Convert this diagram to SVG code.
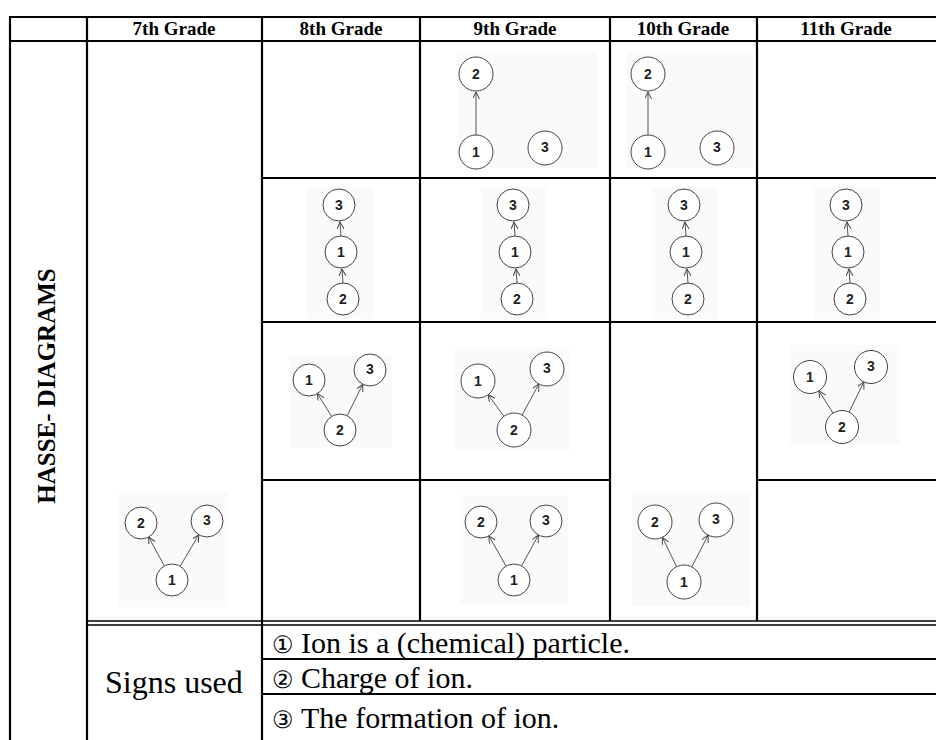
<svg xmlns="http://www.w3.org/2000/svg" width="936" height="740" viewBox="0 0 936 740">
<defs>
<marker id="ah" markerUnits="userSpaceOnUse" markerWidth="10" markerHeight="10" refX="7" refY="3.5" orient="auto">
<path d="M0,0 L7,3.5 L0,7" fill="none" stroke="#444" stroke-width="1"/>
</marker>
<style>
.grid{stroke:#000;stroke-width:2.2;fill:none}
.dbl{stroke:#000;stroke-width:1.6;fill:none}
.bg{fill:#fafafa}
.nd{fill:#fff;stroke:#444;stroke-width:1}
.lb{font-family:"Liberation Sans",Arial,sans-serif;font-size:14px;font-weight:bold;fill:#222;text-anchor:middle;dominant-baseline:central}
.ed{stroke:#555;stroke-width:1;fill:none;marker-end:url(#ah)}
.hd{font-family:"Liberation Serif","Times New Roman",serif;font-size:19px;font-weight:bold;text-anchor:middle;fill:#000}
.sg{font-family:"Liberation Serif","Times New Roman","DejaVu Serif",serif;font-size:30px;fill:#000}
</style>
</defs>
<rect width="936" height="740" fill="#fff"/>

<g id="table">
<line class="grid" x1="10" y1="17" x2="936" y2="17"/>
<line class="grid" x1="10" y1="41" x2="936" y2="41"/>
<line class="grid" x1="262" y1="178" x2="936" y2="178"/>
<line class="grid" x1="262" y1="322" x2="936" y2="322"/>
<line class="grid" x1="262" y1="480" x2="610" y2="480"/>
<line class="grid" x1="757" y1="480" x2="936" y2="480"/>
<line class="dbl" x1="87" y1="621" x2="936" y2="621"/>
<line class="dbl" x1="87" y1="625" x2="936" y2="625"/>
<line class="grid" x1="262" y1="659" x2="936" y2="659"/>
<line class="grid" x1="262" y1="694" x2="936" y2="694"/>
<line class="grid" x1="10" y1="16" x2="10" y2="740"/>
<line class="grid" x1="87" y1="16" x2="87" y2="740"/>
<line class="grid" x1="262" y1="16" x2="262" y2="740"/>
<line class="grid" x1="420" y1="16" x2="420" y2="621"/>
<line class="grid" x1="610" y1="16" x2="610" y2="621"/>
<line class="grid" x1="757" y1="16" x2="757" y2="621"/>
</g>

<g id="headers">
<text class="hd" x="174" y="35">7th Grade</text>
<text class="hd" x="341" y="35">8th Grade</text>
<text class="hd" x="515" y="35">9th Grade</text>
<text class="hd" x="683" y="35">10th Grade</text>
<text class="hd" x="846" y="35">11th Grade</text>
<text class="hd" transform="translate(55,386) rotate(-90)" style="font-size:25px">HASSE- DIAGRAMS</text>
</g>

<g id="legend">
<text class="sg" x="105" y="693" style="font-size:32px">Signs used</text>
<text class="sg" x="272" y="653" style="font-size:24px">①</text>
<text class="sg" x="301" y="653">Ion is a (chemical) particle.</text>
<text class="sg" x="272" y="688" style="font-size:24px">②</text>
<text class="sg" x="301" y="688">Charge of ion.</text>
<text class="sg" x="272" y="728" style="font-size:24px">③</text>
<text class="sg" x="301" y="728">The formation of ion.</text>
</g>

<g id="backgrounds">
<rect class="bg" x="457" y="52" width="140" height="116"/>
<rect class="bg" x="627" y="52" width="126" height="116"/>
<rect class="bg" x="307" y="187" width="66" height="132"/>
<rect class="bg" x="481" y="187" width="66" height="132"/>
<rect class="bg" x="652" y="187" width="66" height="132"/>
<rect class="bg" x="814" y="187" width="66" height="132"/>
<rect class="bg" x="289" y="355" width="103" height="93"/>
<rect class="bg" x="455" y="348" width="115" height="102"/>
<rect class="bg" x="790" y="345" width="110" height="100"/>
<rect class="bg" x="118" y="493" width="110" height="114"/>
<rect class="bg" x="460" y="495" width="108" height="110"/>
<rect class="bg" x="632" y="492" width="118" height="114"/>
</g>

<g id="connectors">
<line class="ed" x1="476" y1="135" x2="476" y2="92"/>
<line class="ed" x1="648" y1="135" x2="648" y2="92"/>
<line class="ed" x1="341" y1="236" x2="340" y2="222"/>
<line class="ed" x1="343" y1="283" x2="342" y2="269"/>
<line class="ed" x1="515" y1="236" x2="514" y2="222"/>
<line class="ed" x1="517" y1="283" x2="516" y2="269"/>
<line class="ed" x1="686" y1="236" x2="685" y2="222"/>
<line class="ed" x1="688" y1="283" x2="687" y2="269"/>
<line class="ed" x1="848" y1="236" x2="847" y2="222"/>
<line class="ed" x1="850" y1="283" x2="849" y2="269"/>
<line class="ed" x1="331.6" y1="416.4" x2="317.4" y2="393.6"/>
<line class="ed" x1="347.2" y1="415.7" x2="362.8" y2="384.3"/>
<line class="ed" x1="503.9" y1="416.3" x2="488.1" y2="394.7"/>
<line class="ed" x1="522.1" y1="415.1" x2="538.9" y2="383.9"/>
<line class="ed" x1="833.1" y1="413.1" x2="818.9" y2="390.9"/>
<line class="ed" x1="849.2" y1="412.1" x2="863.8" y2="381.9"/>
<line class="ed" x1="164.4" y1="566" x2="148.6" y2="537"/>
<line class="ed" x1="180.2" y1="566.2" x2="198.8" y2="534.8"/>
<line class="ed" x1="506.1" y1="566.1" x2="488.9" y2="535.9"/>
<line class="ed" x1="521.6" y1="565.9" x2="538.4" y2="535.1"/>
<line class="ed" x1="676.6" y1="566.7" x2="662.4" y2="537.3"/>
<line class="ed" x1="691.8" y1="566.9" x2="708.2" y2="535.1"/>
</g>

<g id="g9-r1-n2"><circle class="nd" cx="476" cy="74" r="17"/><text class="lb" x="476" y="74">2</text></g>
<g id="g9-r1-n1"><circle class="nd" cx="476" cy="152" r="17"/><text class="lb" x="476" y="152">1</text></g>
<g id="g9-r1-n3"><circle class="nd" cx="545" cy="148" r="17"/><text class="lb" x="545" y="147">3</text></g>

<g id="g10-r1-n2"><circle class="nd" cx="648" cy="74" r="17"/><text class="lb" x="648" y="74">2</text></g>
<g id="g10-r1-n1"><circle class="nd" cx="648" cy="152" r="17"/><text class="lb" x="648" y="152">1</text></g>
<g id="g10-r1-n3"><circle class="nd" cx="717" cy="148" r="17"/><text class="lb" x="717" y="147">3</text></g>

<g id="g8-r2-n3"><circle class="nd" cx="339" cy="205" r="16"/><text class="lb" x="339" y="205">3</text></g>
<g id="g8-r2-n1"><circle class="nd" cx="341" cy="252" r="16"/><text class="lb" x="341" y="252">1</text></g>
<g id="g8-r2-n2"><circle class="nd" cx="343" cy="299" r="16"/><text class="lb" x="343" y="299">2</text></g>

<g id="g9-r2-n3"><circle class="nd" cx="513" cy="205" r="16"/><text class="lb" x="513" y="205">3</text></g>
<g id="g9-r2-n1"><circle class="nd" cx="515" cy="252" r="16"/><text class="lb" x="515" y="252">1</text></g>
<g id="g9-r2-n2"><circle class="nd" cx="517" cy="299" r="16"/><text class="lb" x="517" y="299">2</text></g>

<g id="g10-r2-n3"><circle class="nd" cx="684" cy="205" r="16"/><text class="lb" x="684" y="205">3</text></g>
<g id="g10-r2-n1"><circle class="nd" cx="686" cy="252" r="16"/><text class="lb" x="686" y="252">1</text></g>
<g id="g10-r2-n2"><circle class="nd" cx="688" cy="299" r="16"/><text class="lb" x="688" y="299">2</text></g>

<g id="g11-r2-n3"><circle class="nd" cx="846" cy="205" r="16"/><text class="lb" x="846" y="205">3</text></g>
<g id="g11-r2-n1"><circle class="nd" cx="848" cy="252" r="16"/><text class="lb" x="848" y="252">1</text></g>
<g id="g11-r2-n2"><circle class="nd" cx="850" cy="299" r="16"/><text class="lb" x="850" y="299">2</text></g>

<g id="g8-r3-n1"><circle class="nd" cx="309" cy="380" r="16"/><text class="lb" x="309" y="380">1</text></g>
<g id="g8-r3-n3"><circle class="nd" cx="370" cy="370" r="16"/><text class="lb" x="370" y="369">3</text></g>
<g id="g8-r3-n2"><circle class="nd" cx="340" cy="430" r="16"/><text class="lb" x="340" y="430">2</text></g>

<g id="g9-r3-n1"><circle class="nd" cx="478" cy="381" r="17"/><text class="lb" x="478" y="381">1</text></g>
<g id="g9-r3-n3"><circle class="nd" cx="547" cy="369" r="17"/><text class="lb" x="547" y="368">3</text></g>
<g id="g9-r3-n2"><circle class="nd" cx="514" cy="430" r="17"/><text class="lb" x="514" y="430">2</text></g>

<g id="g11-r3-n1"><circle class="nd" cx="810" cy="377" r="16.5"/><text class="lb" x="810" y="377">1</text></g>
<g id="g11-r3-n3"><circle class="nd" cx="871" cy="367" r="16.5"/><text class="lb" x="871" y="366">3</text></g>
<g id="g11-r3-n2"><circle class="nd" cx="842" cy="427" r="16.5"/><text class="lb" x="842" y="427">2</text></g>

<g id="g7-n2"><circle class="nd" cx="141" cy="523" r="16"/><text class="lb" x="141" y="523">2</text></g>
<g id="g7-n3"><circle class="nd" cx="207" cy="521" r="16"/><text class="lb" x="207" y="520">3</text></g>
<g id="g7-n1"><circle class="nd" cx="172" cy="580" r="16"/><text class="lb" x="172" y="580">1</text></g>

<g id="g9-r4-n2"><circle class="nd" cx="481" cy="522" r="16"/><text class="lb" x="481" y="522">2</text></g>
<g id="g9-r4-n3"><circle class="nd" cx="546" cy="521" r="16"/><text class="lb" x="546" y="520">3</text></g>
<g id="g9-r4-n1"><circle class="nd" cx="514" cy="580" r="16"/><text class="lb" x="514" y="580">1</text></g>

<g id="g10-r34-n2"><circle class="nd" cx="655" cy="522" r="17"/><text class="lb" x="655" y="522">2</text></g>
<g id="g10-r34-n3"><circle class="nd" cx="716" cy="520" r="17"/><text class="lb" x="716" y="519">3</text></g>
<g id="g10-r34-n1"><circle class="nd" cx="684" cy="582" r="17"/><text class="lb" x="684" y="582">1</text></g>
</svg>
